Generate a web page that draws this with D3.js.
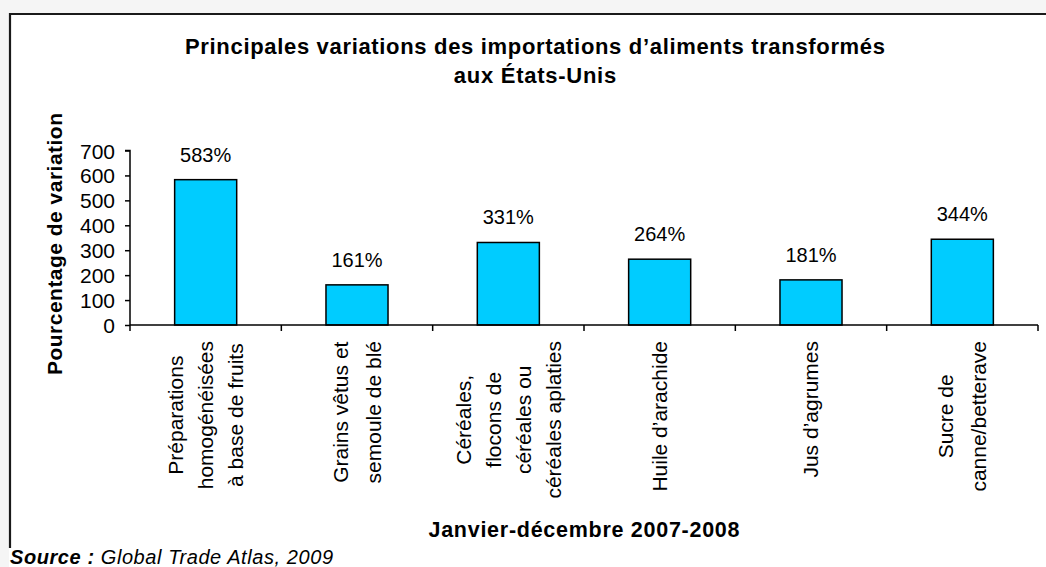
<!DOCTYPE html>
<html><head><meta charset="utf-8">
<script src="https://cdn.jsdelivr.net/npm/d3@7"></script>
<style>
html,body{margin:0;padding:0;background:#f5f5f5;}
svg{display:block;font-family:"Liberation Sans",Arial,sans-serif;}
</style></head>
<body>
<svg id="c" width="1046" height="567"></svg>
<script>
const categories = [
  ["Préparations","homogénéisées","à base de fruits"],
  ["Grains vêtus et","semoule de blé"],
  ["Céréales,","flocons de","céréales ou","céréales aplaties"],
  ["Huile d’arachide"],
  ["Jus d’agrumes"],
  ["Sucre de","canne/betterave"]
];
const values = [583,161,331,264,181,344];
const yTicks = [0,100,200,300,400,500,600,700];
const titleLines = ["Principales variations des importations d’aliments transformés","aux États-Unis"];
const yTitle = "Pourcentage de variation";
const xTitle = "Janvier-décembre 2007-2008";

(function(){
const svg = d3.select("#c");
// frame
svg.append("rect").attr("x",9).attr("y",13).attr("width",1100).attr("height",600).attr("fill","#fff");
svg.append("path").attr("d","M10,548V14H1046").attr("fill","none").attr("stroke","#1a1a1a").attr("stroke-width",2.2);

const pL=130,pR=1038,pT=150.5,pB=325;
const x = d3.scaleBand().domain(d3.range(categories.length)).range([pL,pR]).padding(0);
const y = d3.scaleLinear().domain([0,700]).range([pB,pT]);
const barFrac = 0.41;

// bars
svg.append("g").selectAll("rect").data(values).join("rect")
  .attr("x",(d,i)=>x(i)+x.bandwidth()*(1-barFrac)/2)
  .attr("width",x.bandwidth()*barFrac)
  .attr("y",d=>y(d)).attr("height",d=>y(0)-y(d))
  .attr("fill","#00ccff").attr("stroke","#000").attr("stroke-width",1.5);

// value labels
svg.append("g").selectAll("text").data(values).join("text")
  .attr("x",(d,i)=>x(i)+x.bandwidth()/2).attr("y",d=>y(d)-18)
  .attr("text-anchor","middle").attr("font-size",20).attr("fill","#000")
  .text(d=>d+"%");

// y axis
const ya = svg.append("g").attr("transform",`translate(${pL},0)`)
  .call(d3.axisLeft(y).tickValues(yTicks).tickSize(5).tickPadding(0).tickFormat(d3.format("d")));
ya.select(".domain").attr("stroke","#000").attr("stroke-width",1.5).attr("d",`M-5,${pT}H0V${pB}`);
ya.selectAll(".tick line").attr("stroke","#000").attr("stroke-width",1.5);
ya.selectAll(".tick text").attr("font-size",21).attr("font-family","Liberation Sans, Arial, sans-serif").attr("fill","#000")
  .attr("x",-15).attr("dy","0.36em").attr("text-anchor","end");

// x axis
const xTickPos = d3.range(categories.length+1).map(i=> i<categories.length ? x(i) : pR);
svg.append("line").attr("x1",pL).attr("x2",pR).attr("y1",pB).attr("y2",pB).attr("stroke","#000").attr("stroke-width",1.5);
svg.append("g").selectAll("line").data(xTickPos).join("line")
  .attr("x1",d=>d).attr("x2",d=>d).attr("y1",pB).attr("y2",pB+6).attr("stroke","#000").attr("stroke-width",1.5);

// category labels
const fs = 21;
categories.forEach((lines,i)=>{
  const cx = x(i)+x.bandwidth()/2;
  const sp = lines.length===2 ? 33 : 30;
  const g = svg.append("g");
  const ts = lines.map((l,j)=>{
    return g.append("text").attr("font-size",fs).attr("text-anchor","middle").attr("fill","#000").text(l);
  });
  const maxLen = d3.max(ts, t=>t.node().getComputedTextLength());
  const cy = pB + 16 + maxLen/2;
  ts.forEach((t,j)=>{
    const lx = cx + (j-(lines.length-1)/2)*sp;
    t.attr("transform",`translate(${lx},${cy}) rotate(-90)`).attr("dy","0.35em");
  });
});

// title
const tg = svg.append("g");
const t1 = tg.append("text").attr("x",535).attr("y",54).attr("text-anchor","middle").attr("font-size",22).attr("font-weight","bold").text(titleLines[0]);
const w1 = t1.node().getComputedTextLength();
const r = 700/w1;
t1.attr("textLength",700).attr("lengthAdjust","spacing");
const t2 = tg.append("text").attr("x",535).attr("y",83).attr("text-anchor","middle").attr("font-size",22).attr("font-weight","bold").text(titleLines[1]);
t2.attr("textLength",t2.node().getComputedTextLength()*r).attr("lengthAdjust","spacing");

// y title
svg.append("text").attr("transform","translate(54.5,244) rotate(-90)").attr("dy","0.35em")
  .attr("text-anchor","middle").attr("font-size",21).attr("font-weight","bold")
  .attr("textLength",262).attr("lengthAdjust","spacing").text(yTitle);

// x title
svg.append("text").attr("x",584).attr("y",537).attr("text-anchor","middle").attr("font-size",21.5).attr("font-weight","bold")
  .attr("textLength",311).attr("lengthAdjust","spacing").text(xTitle);

// source
const src = svg.append("text").attr("x",10).attr("y",564).attr("font-size",20).attr("font-style","italic")
  .attr("textLength",323).attr("lengthAdjust","spacing");
src.append("tspan").attr("font-weight","bold").text("Source :");
src.append("tspan").text(" Global Trade Atlas, 2009");
})();
</script>
</body></html>
